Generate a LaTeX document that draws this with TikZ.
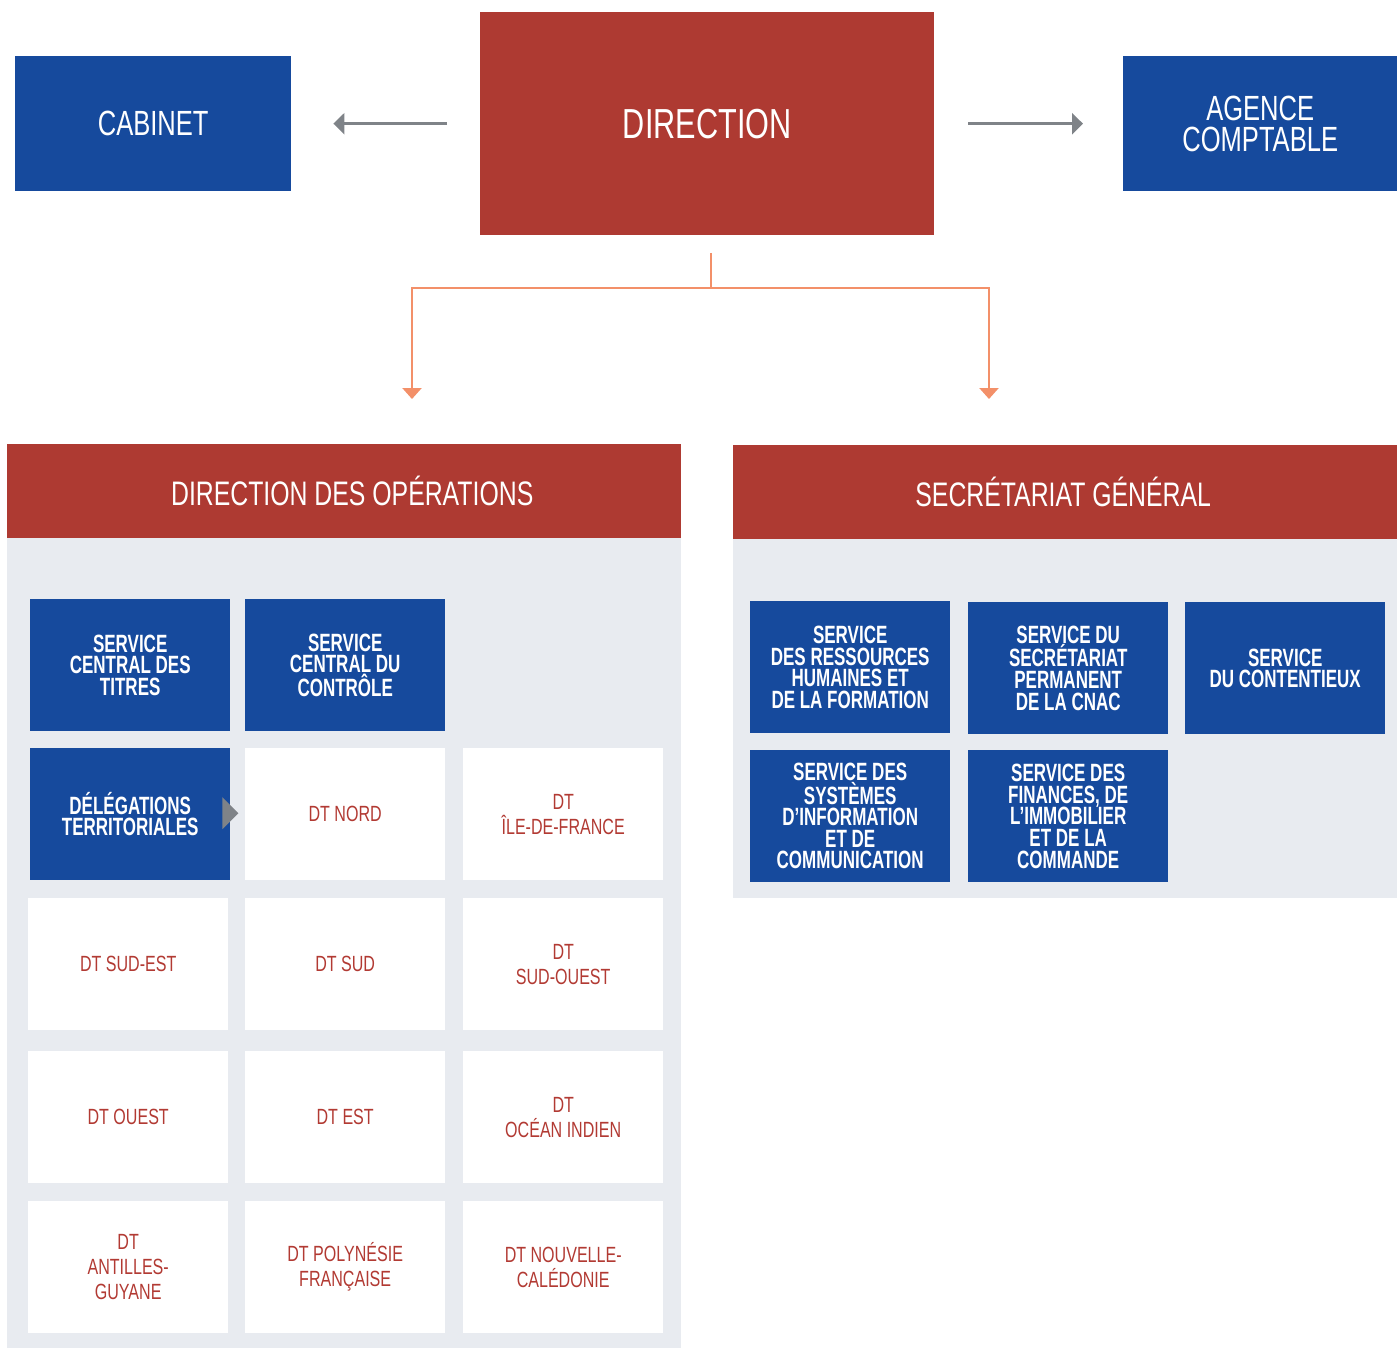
\documentclass[tikz,border=0pt]{standalone}
\usepackage{fontspec}
\setmainfont[FakeStretch=0.73,BoldFeatures={FakeStretch=0.68}]{Liberation Sans}
\usetikzlibrary{arrows.meta}
\definecolor{cblue}{HTML}{164A9D}
\definecolor{cred}{HTML}{AE3A32}
\definecolor{cpanel}{HTML}{E8EBF0}
\definecolor{cgray}{HTML}{7F8388}
\definecolor{corange}{HTML}{F39069}
\definecolor{cdt}{HTML}{B23A33}
\begin{document}
\begin{tikzpicture}[x=1pt,y=-1pt,
  topblue/.style={fill=cblue,text=white,anchor=north west,inner sep=0pt,align=center,
    minimum width=276pt,minimum height=135pt,font=\fontsize{35}{31}\selectfont},
  topred/.style={fill=cred,text=white,anchor=north west,inner sep=0pt,align=center,
    minimum width=454pt,minimum height=223pt,font=\fontsize{42}{42}\selectfont},
  header/.style={fill=cred,text=white,anchor=north west,inner sep=0pt,align=center,
    minimum height=94pt,font=\fontsize{34}{34}\selectfont},
  panel/.style={fill=cpanel},
  svc/.style={fill=cblue,text=white,anchor=north west,inner sep=0pt,align=center,
    minimum width=200pt,minimum height=132pt,font=\bfseries\fontsize{25}{21.6}\selectfont},
  dtbox/.style={fill=white,text=cdt,anchor=north west,inner sep=0pt,align=center,
    minimum width=200pt,minimum height=132pt,font=\fontsize{22}{25}\selectfont},
  grayarr/.style={draw=cgray,line width=3pt,-{Triangle[length=11pt,width=21pt]}},
  orarr/.style={draw=corange,line width=2.5pt,-{Triangle[length=11pt,width=19pt]}},
  marker/.style={fill=cgray}
]
\useasboundingbox (0,0) rectangle (1397,1348);

% top row
\node[topblue] (cab) at (15,56) {CABINET};
\node[topred] (dir) at (480,12) {DIRECTION};
\node[topblue,minimum width=274pt] (agc) at (1123,56) {AGENCE\\COMPTABLE};

\draw[grayarr,shorten <=33pt,shorten >=42pt] (dir.west) -- (cab.east);
\draw[grayarr,shorten <=34pt,shorten >=40pt] (dir.east) -- (agc.west);

% orange connectors
\coordinate (o) at (711,253);
\coordinate (oj) at (711,288);
\coordinate (ta) at (412,399);
\coordinate (tb) at (989,399);
\draw[orarr] (o) -- (oj) -| (ta);
\draw[orarr] (oj) -| (tb);

% panels
\fill[panel] (7,538) rectangle (681,1348);
\fill[panel] (733,539) rectangle (1397,898);
\node[header,minimum width=674pt] (dop) at (7,444) {\hspace*{16pt}DIRECTION DES OPÉRATIONS};
\node[header,minimum width=664pt] (sg) at (733,445) {SECRÉTARIAT GÉNÉRAL\hspace*{4pt}};

% left grid
\node[svc] (sct) at (30,599) {SERVICE\\CENTRAL DES\\TITRES};
\node[svc] (scc) at (245,599) {SERVICE\\CENTRAL DU\\CONTRÔLE};
\node[svc] (dtd) at (30,748) {DÉLÉGATIONS\\TERRITORIALES};
\node[dtbox] (dtn) at (245,748) {DT NORD};
\node[dtbox] (dti) at (463,748) {DT\\ÎLE-DE-FRANCE};
\node[dtbox] (dtse) at (28,898) {DT SUD-EST};
\node[dtbox] (dts) at (245,898) {DT SUD};
\node[dtbox] (dtso) at (463,898) {DT\\SUD-OUEST};
\node[dtbox] (dto) at (28,1051) {DT OUEST};
\node[dtbox] (dte) at (245,1051) {DT EST};
\node[dtbox] (dtoi) at (463,1051) {DT\\OCÉAN INDIEN};
\node[dtbox] (dtag) at (28,1201) {DT\\ANTILLES-\\GUYANE};
\node[dtbox] (dtpf) at (245,1201) {DT POLYNÉSIE\\FRANÇAISE};
\node[dtbox] (dtnc) at (463,1201) {DT NOUVELLE-\\CALÉDONIE};

\fill[marker] ([shift={(-8,-17)}]dtd.east) -- ([shift={(8,-1)}]dtd.east) -- ([shift={(-8,15)}]dtd.east) -- cycle;

% right grid
\node[svc] (srh) at (750,601) {SERVICE\\DES RESSOURCES\\HUMAINES ET\\DE LA FORMATION};
\node[svc] (ssp) at (968,602) {SERVICE DU\\SECRÉTARIAT\\PERMANENT\\DE LA CNAC};
\node[svc] (sdc) at (1185,602) {SERVICE\\DU CONTENTIEUX};
\node[svc] (ssi) at (750,750) {SERVICE DES\\SYSTÈMES\\D’INFORMATION\\ET DE\\COMMUNICATION};
\node[svc] (sfi) at (968,750) {SERVICE DES\\FINANCES, DE\\L’IMMOBILIER\\ET DE LA\\COMMANDE};
\end{tikzpicture}
\end{document}
